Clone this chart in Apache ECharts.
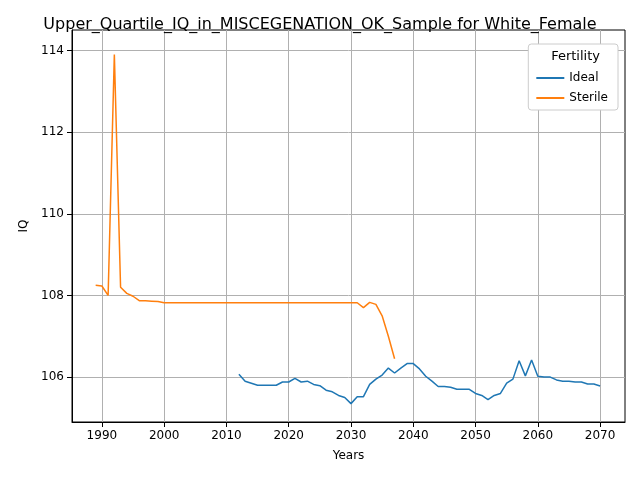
<!DOCTYPE html>
<html>
<head>
<meta charset="UTF-8">
<script src="https://cdn.jsdelivr.net/npm/echarts@6/dist/echarts.min.js"></script>
</head>
<body style="margin:0">
<div id="main" style="width:640px;height:480px"></div>
<script>
const sterileYears = [1989,1990,1991,1992,1993,1994,1995,1996,1997,1998,1999,2000,2005,2010,2015,2020,2025,2030,2031,2032,2033,2034,2035,2036,2037];
const sterileIQ = [108.25,108.23,108.0,113.9,108.2,108.05,107.98,107.87,107.87,107.86,107.85,107.82,107.82,107.82,107.82,107.82,107.82,107.82,107.82,107.7,107.83,107.78,107.5,107.0,106.45];
const idealYears = [];
for (let y = 2012; y <= 2070; y++) idealYears.push(y);
const idealIQ = [106.07,105.9,105.85,105.8,105.8,105.8,105.8,105.88,105.88,105.97,105.88,105.9,105.82,105.79,105.68,105.64,105.55,105.5,105.35,105.52,
  105.52,105.82,105.95,106.05,106.22,106.1,106.22,106.33,106.33,106.2,106.02,105.9,105.77,105.77,105.75,105.7,105.7,105.7,105.6,105.55,
  105.45,105.55,105.6,105.85,105.95,106.4,106.03,106.42,106.02,106.0,106.0,105.93,105.9,105.9,105.88,105.88,105.83,105.83,105.78];
const xTicks = [1990,2000,2010,2020,2030,2040,2050,2060,2070];
const yTicks = [106,108,110,112,114];

const zip = (a, b) => a.map((v, i) => [v, b[i]]);
const chart = echarts.init(document.getElementById('main'));
const font = 'DejaVu Sans';
chart.setOption({
  animation: false,
  textStyle: { fontFamily: font },
  title: { text: 'Upper_Quartile_IQ_in_MISCEGENATION_OK_Sample for White_Female', left: 'center', top: 12,
    textStyle: { fontFamily: font, fontSize: 16, fontWeight: 'normal', color: '#000' } },
  grid: { left: 72, right: 15, top: 30, bottom: 58, show: true, borderColor: '#000', borderWidth: 1 },
  xAxis: { type: 'value', min: 1985.2, max: 2074, name: 'Years', nameLocation: 'middle', nameGap: 28,
    nameTextStyle: { color: '#000', fontSize: 12 },
    axisLine: { onZero: false, lineStyle: { color: '#000' } },
    axisTick: { show: true, customValues: xTicks, lineStyle: { color: '#000' } },
    axisLabel: { customValues: xTicks, color: '#000', fontSize: 12, formatter: v => String(v) },
    splitLine: { show: true, lineStyle: { color: '#b0b0b0' } } },
  yAxis: { type: 'value', min: 104.9, max: 114.5, name: 'IQ', nameLocation: 'middle', nameGap: 42,
    nameTextStyle: { color: '#000', fontSize: 12 },
    axisLine: { show: true, lineStyle: { color: '#000' } },
    axisTick: { show: true, customValues: yTicks, lineStyle: { color: '#000' } },
    axisLabel: { customValues: yTicks, color: '#000', fontSize: 12 },
    splitLine: { show: true, lineStyle: { color: '#b0b0b0' } } },
  legend: { orient: 'vertical', right: 22, top: 44, padding: [28, 10, 6, 8], itemGap: 8,
    borderColor: '#ccc', borderWidth: 1, borderRadius: 3, backgroundColor: '#fff',
    itemWidth: 28, itemHeight: 2, icon: 'rect',
    textStyle: { fontSize: 12, color: '#000' },
    data: ['Ideal', 'Sterile'] },
  graphic: [{ type: 'text', right: 40, top: 50, z: 100,
    style: { text: 'Fertility', fontSize: 13, fontFamily: font, fill: '#000' } }],
  series: [
    { name: 'Ideal', type: 'line', data: zip(idealYears, idealIQ), showSymbol: false,
      lineStyle: { color: '#1f77b4', width: 1.5 }, itemStyle: { color: '#1f77b4' } },
    { name: 'Sterile', type: 'line', data: zip(sterileYears, sterileIQ), showSymbol: false,
      lineStyle: { color: '#ff7f0e', width: 1.5 }, itemStyle: { color: '#ff7f0e' } }
  ]
});
</script>
</body>
</html>
